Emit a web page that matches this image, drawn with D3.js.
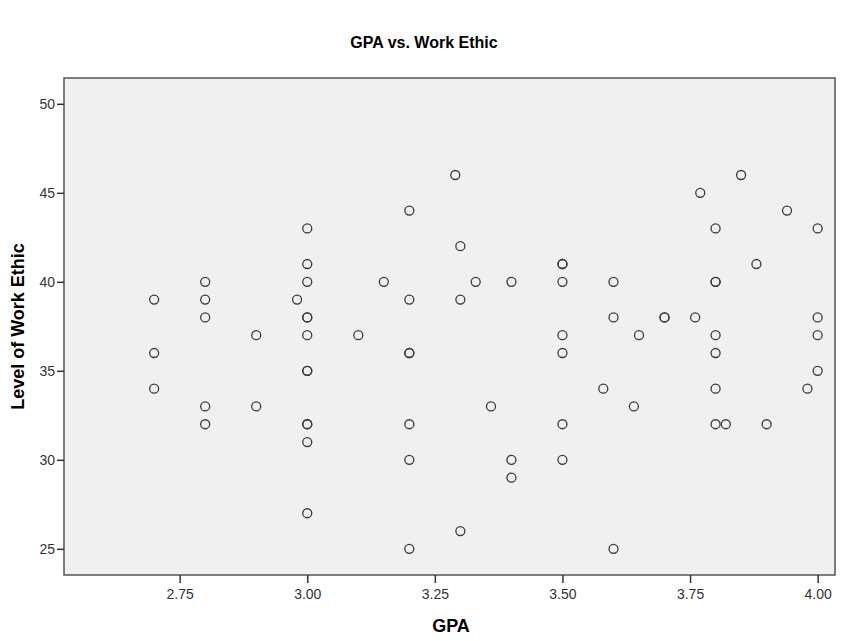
<!DOCTYPE html>
<html>
<head>
<meta charset="utf-8">
<script src="https://cdn.jsdelivr.net/npm/d3@7"></script>
<style>
  html, body { margin: 0; padding: 0; background: #ffffff; }
  svg { display: block; font-family: "Liberation Sans", Arial, sans-serif; }
</style>
</head>
<body>
<svg id="chart" width="847" height="641"></svg>
<script>
// GPA values (x) and Work Ethic values (y), one pair per student
const gpa = [
  3.29, 3.85,
  3.77,
  3.20, 3.94,
  3.00, 3.80, 4.00,
  3.30,
  3.00, 3.50, 3.50, 3.88,
  2.80, 3.00, 3.15, 3.33, 3.40, 3.50, 3.60, 3.80, 3.80,
  2.70, 2.80, 2.98, 3.20, 3.30,
  2.80, 3.00, 3.00, 3.60, 3.70, 3.70, 3.76, 4.00,
  2.90, 3.00, 3.10, 3.50, 3.65, 3.80, 4.00,
  2.70, 3.20, 3.20, 3.50, 3.80,
  3.00, 3.00, 4.00,
  2.70, 3.58, 3.80, 3.98,
  2.80, 2.90, 3.36, 3.64,
  2.80, 3.00, 3.00, 3.20, 3.50, 3.80, 3.82, 3.90,
  3.00,
  3.20, 3.40, 3.50,
  3.40,
  3.00,
  3.30,
  3.20, 3.60
];
const workEthic = [
  46, 46,
  45,
  44, 44,
  43, 43, 43,
  42,
  41, 41, 41, 41,
  40, 40, 40, 40, 40, 40, 40, 40, 40,
  39, 39, 39, 39, 39,
  38, 38, 38, 38, 38, 38, 38, 38,
  37, 37, 37, 37, 37, 37, 37,
  36, 36, 36, 36, 36,
  35, 35, 35,
  34, 34, 34, 34,
  33, 33, 33, 33,
  32, 32, 32, 32, 32, 32, 32, 32,
  31,
  30, 30, 30,
  29,
  27,
  26,
  25, 25
];
const xTicks = [2.75, 3.00, 3.25, 3.50, 3.75, 4.00];
const yTicks = [25, 30, 35, 40, 45, 50];
const xDomain = [2.5234, 4.034];
const yDomain = [23.53, 51.45];

const svg = d3.select("#chart");
const pLeft = 64, pRight = 835, pTop = 78, pBottom = 575;

const x = d3.scaleLinear().domain(xDomain).range([pLeft, pRight]);
const y = d3.scaleLinear().domain(yDomain).range([pBottom, pTop]);

// plot background
svg.append("rect")
  .attr("x", pLeft).attr("y", pTop)
  .attr("width", pRight - pLeft).attr("height", pBottom - pTop)
  .attr("fill", "#f0f0f0");

// points
const pts = gpa.map((g, i) => ({ g, w: workEthic[i] }));
svg.append("g").selectAll("circle").data(pts).join("circle")
  .attr("cx", d => x(d.g))
  .attr("cy", d => y(d.w))
  .attr("r", 4.5)
  .attr("fill", "none")
  .attr("stroke", "#3a3a3a")
  .attr("stroke-width", 1.3);

// frame
svg.append("rect")
  .attr("x", pLeft).attr("y", pTop)
  .attr("width", pRight - pLeft).attr("height", pBottom - pTop)
  .attr("fill", "none")
  .attr("stroke", "#555")
  .attr("stroke-width", 1.5);

// axes
const xAxis = d3.axisBottom(x).tickValues(xTicks).tickFormat(d3.format(".2f")).tickSize(8).tickSizeOuter(0);
const yAxis = d3.axisLeft(y).tickValues(yTicks).tickFormat(d3.format("d")).tickSize(7).tickSizeOuter(0);

const gx = svg.append("g").attr("transform", `translate(0,${pBottom})`).call(xAxis);
const gy = svg.append("g").attr("transform", `translate(${pLeft},0)`).call(yAxis);
[gx, gy].forEach(g => {
  g.select(".domain").remove();
  g.selectAll(".tick line").attr("stroke", "#333").attr("stroke-width", 1.5);
  g.selectAll(".tick text").attr("fill", "#333")
    .style("font-family", "'Liberation Sans', Arial, sans-serif")
    .style("font-size", "14px");
});
gx.selectAll(".tick text").attr("dy", "0.71em").attr("y", 14);
gy.selectAll(".tick text").attr("x", -9);

// titles
svg.append("text")
  .attr("x", 424).attr("y", 48)
  .attr("text-anchor", "middle")
  .style("font-size", "16px").style("font-weight", "bold")
  .attr("fill", "#000")
  .text("GPA vs. Work Ethic");

svg.append("text")
  .attr("x", 451).attr("y", 632)
  .attr("text-anchor", "middle")
  .style("font-size", "18px").style("font-weight", "bold")
  .attr("fill", "#000")
  .text("GPA");

svg.append("text")
  .attr("transform", `translate(24,${(pTop + pBottom) / 2}) rotate(-90)`)
  .attr("text-anchor", "middle")
  .style("font-size", "18px").style("font-weight", "bold")
  .attr("fill", "#000")
  .text("Level of Work Ethic");
</script>
</body>
</html>
